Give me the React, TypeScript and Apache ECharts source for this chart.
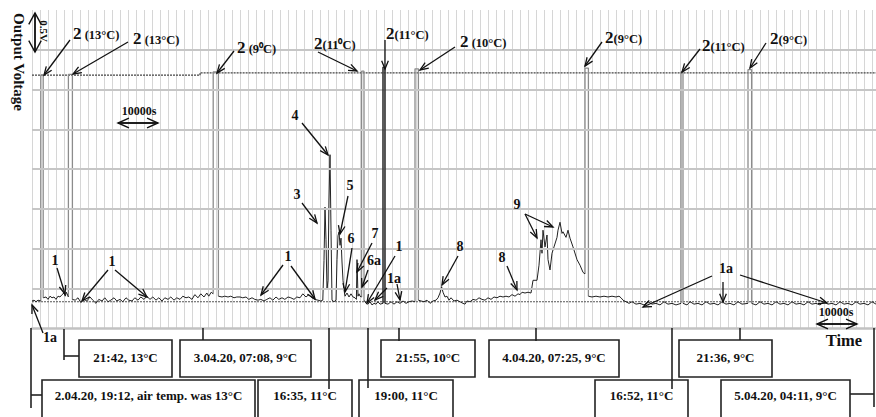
import React, { useEffect, useRef } from "react";
import * as echarts from "echarts";

const FONT = '"Liberation Serif", "Times New Roman", serif';

// time in ks (10000 s = 10 units), output voltage in V
const seg0 = [[0,0.34],[0.5,0.35],[1,0.33],[1.5,0.35],[2.2,0.34]];
const seg1 = [[2.8,0.38],[3.5,0.39],[4,0.36],[4.5,0.40],[5,0.38],[5.5,0.39],[6,0.36],[6.5,0.40],[7,0.39],[7.5,0.42],[8,0.44],[8.3,0.40],[8.6,0.45],[9.1,0.39]];
const seg2 = [[10.1,0.36],[10.8,0.35],[11.5,0.38],[12.2,0.32],[13,0.36],[13.7,0.34],[14.5,0.39],[15.2,0.35],[16,0.31],[16.7,0.36],[17.5,0.34],[18.2,0.38],[19,0.33],[19.7,0.35],[20.5,0.38],[21.2,0.34],[22,0.36],[22.7,0.33],[23.5,0.38],[24.2,0.35],[25,0.34],[25.7,0.38],[26.5,0.35],[27.2,0.39],[28,0.36],[28.7,0.40],[29.5,0.36],[30.2,0.39],[31,0.35],[31.7,0.38],[32.5,0.34],[33.2,0.38],[34,0.36],[34.7,0.39],[35.5,0.35],[36.2,0.38],[37,0.36],[37.7,0.40],[38.5,0.38],[39.2,0.39],[40,0.36],[40.7,0.42],[41.5,0.38],[42.2,0.43],[43,0.39],[43.7,0.44],[44.2,0.40],[44.8,0.45],[45.3,0.43]];
const seg3 = [[46.6,0.40],[47.5,0.39],[48.2,0.40],[49,0.39],[49.7,0.40],[50.5,0.38],[51.2,0.39],[52,0.39],[52.7,0.38],[53.5,0.39],[54.2,0.36],[55,0.38],[55.7,0.36],[56.5,0.35],[57.2,0.36],[58,0.34],[58.7,0.36],[59.5,0.38],[60.2,0.35],[61,0.39],[61.7,0.36],[62.5,0.38],[63.2,0.36],[64,0.39],[64.7,0.38],[65.5,0.36],[66.2,0.39],[67,0.38],[67.7,0.43],[68.5,0.39],[69.2,0.42],[70,0.38],[70.7,0.36],[71.5,0.35],[72.2,0.34],[72.7,0.35],[73,0.85],[73.25,1.52],[73.5,1.11],[73.75,0.48],[74,0.60],[74.25,1.61],[74.5,2.18],[74.75,1.23],[75,0.35],[75.5,0.33],[76,0.35],[76.25,0.86],[76.5,1.16],[76.75,1.21],[77,1.04],[77.25,1.13],[77.5,0.83],[77.75,0.60],[78,0.48],[78.25,0.40],[78.75,0.44],[79.25,0.39],[79.75,0.43],[80.25,0.39],[80.75,0.38],[81.1,0.36],[81.25,0.86],[81.4,0.86],[81.5,0.40],[81.75,0.43],[82,0.40],[82.4,0.39]];
const seg4 = [[83,0.35],[83.5,0.31],[84,0.30],[84.5,0.33],[85,0.29],[85.5,0.31],[86,0.30],[86.5,0.33],[87,0.30],[87.75,0.31]];
const seg5 = [[88.25,0.31],[89,0.30],[89.75,0.33],[90.5,0.30],[91.25,0.33],[92,0.31],[92.75,0.34],[93.5,0.31],[94.25,0.33],[95,0.34],[95.75,0.33]];
const seg6 = [[96.6,0.35],[97.25,0.34],[98,0.33],[98.75,0.35],[99.5,0.31],[100.25,0.34],[101,0.35],[101.5,0.38],[102,0.44],[102.4,0.52],[102.75,0.45],[103.25,0.39],[103.75,0.40],[104.25,0.35],[104.75,0.38],[105.5,0.34],[106.25,0.35],[107,0.33],[107.75,0.31],[108.25,0.30],[108.75,0.34],[109.5,0.33],[110.25,0.36],[111,0.35],[111.75,0.38],[112.5,0.36],[113.25,0.35],[114,0.38],[114.75,0.36],[115.5,0.39],[116.25,0.38],[117,0.40],[117.75,0.39],[118.5,0.40],[119.25,0.39],[120,0.42],[120.75,0.40],[121.5,0.43],[122,0.42],[122.5,0.45],[123.25,0.44],[124,0.45],[124.75,0.44],[125.25,0.60],[126.25,0.60],[126.75,0.79],[127.25,1.11],[127.5,0.94],[127.75,1.23],[128.25,1.02],[128.75,1.17],[129,0.86],[129.5,0.73],[130,0.94],[130.5,1.02],[131.25,1.14],[131.5,1.23],[132,1.33],[132.5,1.19],[132.75,1.21],[133.5,1.14],[134,1.23],[134.5,1.13],[135.25,1.02],[136.25,0.86],[137,0.79],[137.75,0.70],[138.25,0.68]];
const seg7 = [[139.1,0.40],[140,0.39],[141,0.40],[142,0.39],[143,0.40],[144,0.39],[145,0.40],[146,0.39],[146.75,0.40],[147.25,0.38],[147.75,0.35],[148.5,0.33],[149.25,0.31],[150,0.33],[151,0.30],[152,0.31],[153,0.29],[154,0.33],[155,0.30],[156,0.31],[157,0.29],[158,0.33],[159,0.30],[160,0.31],[161,0.29],[162.25,0.31]];
const seg8 = [[162.75,0.31],[163.75,0.29],[164.5,0.33],[165.5,0.30],[166.5,0.31],[167.5,0.29],[168.5,0.33],[169.5,0.30],[170.5,0.31],[171.5,0.29],[172.5,0.33],[173.5,0.30],[174.5,0.31],[175.5,0.29],[176.5,0.33],[177.5,0.30],[179,0.31]];
const seg9 = [[179.9,0.31],[181,0.29],[182,0.33],[183,0.30],[184,0.31],[185,0.29],[186,0.33],[187,0.30],[188,0.31],[189,0.29],[190,0.33],[191,0.30],[192,0.31],[193,0.29],[194,0.33],[195,0.30],[196,0.31],[197,0.29],[198,0.33],[199,0.30],[200,0.31],[201,0.29],[202,0.33],[203,0.30],[204,0.31],[205,0.29],[206,0.33],[207,0.30],[208,0.31],[209,0.29],[210,0.33],[211,0.30]];
const segments = [seg0, seg1, seg2, seg3, seg4, seg5, seg6, seg7, seg8, seg9];

// saturation pulses "2" between consecutive segments
const pulseTops = [3.18, 3.19, 3.22, 3.23, 3.28, 3.26, 3.27, 3.22, 3.25];
const pulseDark = [false, false, false, false, true, false, false, false, false];

const levelHigh = [[0,3.18],[42,3.18],[42,3.21],[211,3.21]];
const levelBase = [[0,0.33],[211,0.33]];
const gridVolts = [0.5, 1, 1.5, 2, 2.5, 3, 3.5];

const topLabels = [
  { x: 73, y: 33, sep: " ", d: "(13°C)", a: [70, 40, 44, 75] },
  { x: 133, y: 38, sep: " ", d: "(13°C)", a: [128, 42, 73, 74] },
  { x: 237, y: 47, sep: " ", d: "(9⁰C)", a: [234, 51, 217, 73] },
  { x: 314, y: 43, sep: "", d: "(11⁰C)", a: [318, 52, 357, 71] },
  { x: 386, y: 33, sep: "", d: "(11°C)", a: [385, 40, 385, 69] },
  { x: 460, y: 41, sep: " ", d: "(10°C)", a: [455, 47, 420, 70] },
  { x: 605, y: 37, sep: "", d: "(9°C)", a: [602, 42, 585, 66] },
  { x: 702, y: 45, sep: "", d: "(11°C)", a: [700, 49, 682, 72] },
  { x: 770, y: 38, sep: "", d: "(9°C)", a: [766, 43, 750, 68] },
];

const midLabels = [
  { t: "1", x: 55, y: 260, a: [[57, 268, 65, 294]] },
  { t: "1", x: 112, y: 261, a: [[108, 270, 82, 301], [115, 270, 147, 297]] },
  { t: "1", x: 288, y: 256, a: [[283, 265, 261, 295], [291, 266, 315, 299]] },
  { t: "3", x: 297, y: 194, a: [[302, 203, 317, 223]] },
  { t: "4", x: 295, y: 115, a: [[302, 123, 328, 155]] },
  { t: "5", x: 350, y: 185, a: [[348, 196, 340, 234]] },
  { t: "6", x: 351, y: 238, a: [[352, 248, 345, 292]] },
  { t: "7", x: 375, y: 233, a: [[372, 243, 357, 272]] },
  { t: "6a", x: 374, y: 260, a: [[368, 270, 362, 287]] },
  { t: "1", x: 399, y: 246, a: [[395, 256, 367, 303]] },
  { t: "1a", x: 394, y: 278, a: [[387, 288, 375, 300], [397, 284, 400, 300]] },
  { t: "8", x: 460, y: 246, a: [[458, 256, 442, 285]] },
  { t: "8", x: 502, y: 257, a: [[507, 266, 517, 290]] },
  { t: "9", x: 517, y: 204, a: [[525, 214, 537, 238], [525, 214, 553, 227]] },
  { t: "1a", x: 726, y: 268, a: [[712, 276, 643, 307], [723, 282, 723, 302], [740, 275, 827, 303]] },
  { t: "1a", x: 50, y: 337, a: [[43, 333, 32, 305]] },
];

const row1Texts = ["21:42, 13°C", "3.04.20, 07:08, 9°C", "21:55, 10°C", "4.04.20, 07:25, 9°C", "21:36, 9°C"];
const row1X = [[79, 172], [180, 311], [381, 475], [489, 619], [679, 772]];
const row2Texts = ["2.04.20, 19:12, air temp. was 13°C", "16:35, 11°C", "19:00, 11°C", "16:52, 11°C", "5.04.20, 04:11, 9°C"];
const row2X = [[42, 255], [258, 352], [359, 453], [595, 688], [721, 850]];

const connectors = [
  [31, 328, 31, 408], [31, 395, 42, 395],
  [64, 329, 64, 360], [64, 356, 79, 356],
  [203, 328, 203, 340],
  [329, 328, 329, 389],
  [368, 328, 368, 388],
  [399, 328, 399, 341],
  [536, 328, 536, 341],
  [672, 328, 672, 389],
  [740, 328, 740, 340],
  [874, 328, 874, 407], [850, 394, 874, 394],
];

function arrowEls(x1: number, y1: number, x2: number, y2: number, head = 9, spread = 0.38, lw = 1.3) {
  const a = Math.atan2(y2 - y1, x2 - x1);
  const p1 = [x2 - head * Math.cos(a - spread), y2 - head * Math.sin(a - spread)];
  const p2 = [x2 - head * Math.cos(a + spread), y2 - head * Math.sin(a + spread)];
  return [
    { type: "line", silent: true, z: 100, shape: { x1, y1, x2, y2 }, style: { stroke: "#111", lineWidth: lw } },
    { type: "polyline", silent: true, z: 100, shape: { points: [p1, [x2, y2], p2] }, style: { stroke: "#111", lineWidth: lw, fill: null } },
  ];
}

function doubleArrow(x1: number, y1: number, x2: number, y2: number, head: number, spread: number) {
  return [...arrowEls(x1, y1, x2, y2, head, spread, 1.4), ...arrowEls(x2, y2, x1, y1, head, spread, 1.4)];
}

function buildGraphic() {
  const els: any[] = [];
  const txt = (text: string, x: number, y: number, size: number, rotation = 0) => ({
    type: "text", silent: true, z: 101, x, y, rotation,
    style: { text, fontFamily: FONT, fontSize: size, fontWeight: "bold", fill: "#111", align: "center", verticalAlign: "middle" },
  });
  topLabels.forEach((l) => {
    els.push({
      type: "text", silent: true, z: 101, x: l.x, y: l.y,
      style: {
        text: `{n|2}{c|${l.sep}${l.d}}`,
        align: "left", verticalAlign: "middle",
        rich: {
          n: { fontFamily: FONT, fontSize: 17, fontWeight: "bold", fill: "#111", verticalAlign: "bottom" },
          c: { fontFamily: FONT, fontSize: 12.5, fontWeight: "bold", fill: "#111", verticalAlign: "bottom" },
        },
      },
    });
    els.push(...arrowEls(l.a[0], l.a[1], l.a[2], l.a[3]));
  });
  midLabels.forEach((l) => {
    els.push(txt(l.t, l.x, l.y, 14));
    l.a.forEach((a) => els.push(...arrowEls(a[0], a[1], a[2], a[3])));
  });
  // axis name & scale marks
  els.push(txt("Output Voltage", 19, 62, 15, -Math.PI / 2));
  els.push(txt("0.5V", 44, 31, 11, -Math.PI / 2));
  els.push(...doubleArrow(35, 13, 35, 52, 13, 0.5));
  els.push(txt("10000s", 139, 111, 12));
  els.push(...doubleArrow(118, 123, 158, 123, 12, 0.42));
  els.push(txt("10000s", 836, 312, 12));
  els.push(...doubleArrow(817, 324, 857, 324, 12, 0.42));
  els.push(txt("Time", 844, 340, 16.5));
  // timeline boxes
  const box = (x0: number, x1: number, y0: number, y1: number) => ({
    type: "rect", silent: true, z: 99, shape: { x: x0, y: y0, width: x1 - x0, height: y1 - y0 },
    style: { fill: "#fff", stroke: "#222", lineWidth: 1.6 },
  });
  row1Texts.forEach((t, i) => {
    els.push(box(row1X[i][0], row1X[i][1], 340, 377));
    els.push(txt(t, (row1X[i][0] + row1X[i][1]) / 2, 357, 13));
  });
  row2Texts.forEach((t, i) => {
    els.push(box(row2X[i][0], row2X[i][1], 380, 430));
    els.push(txt(t, (row2X[i][0] + row2X[i][1]) / 2, 395, 13));
  });
  connectors.forEach((c) => {
    els.push({ type: "line", silent: true, z: 102, shape: { x1: c[0], y1: c[1], x2: c[2], y2: c[3] }, style: { stroke: "#222", lineWidth: 1.6 } });
  });
  return els;
}

export default function App() {
  const ref = useRef<HTMLDivElement>(null);
  useEffect(() => {
    if (!ref.current) return;
    const chart = echarts.init(ref.current, null, { renderer: "svg" });
    const series: any[] = [];
    series.push({
      type: "line", data: levelBase, symbol: "none", z: 1, silent: true,
      lineStyle: { color: "#555", width: 1.2, type: [2, 1] },
      markLine: {
        silent: true, symbol: ["none", "none"], label: { show: false },
        lineStyle: { color: "#c6c6c6", width: 1.8, type: "solid" },
        data: gridVolts.map((v) => ({ yAxis: v })),
      },
    });
    series.push({
      type: "line", data: levelHigh, symbol: "none", z: 2, silent: true,
      lineStyle: { color: "#444", width: 1.3, type: [2, 1] },
    });
    segments.forEach((s) => {
      series.push({ type: "line", data: s, symbol: "none", z: 4, silent: true, lineStyle: { color: "#222", width: 1 } });
    });
    pulseTops.forEach((top, i) => {
      const a = segments[i][segments[i].length - 1];
      const b = segments[i + 1][0];
      series.push({
        type: "line", data: [a, [a[0], top], [b[0], top], b], symbol: "none", z: pulseDark[i] ? 5 : 3, silent: true,
        lineStyle: { color: pulseDark[i] ? "#333" : "#8c8c8c", width: pulseDark[i] ? 1.6 : 1.3 },
      });
    });
    chart.setOption({
      animation: false,
      backgroundColor: "#fff",
      grid: { left: 32, right: 0, top: 10, bottom: 89, containLabel: false },
      xAxis: {
        type: "value", min: 0, max: 211, interval: 2,
        axisLine: { show: true, onZero: false, lineStyle: { color: "#c2c2c2", width: 2.5 } },
        axisTick: { show: false }, axisLabel: { show: false },
        splitLine: { show: true, lineStyle: { color: "#d6d6d6", width: 1 } },
      },
      yAxis: {
        type: "value", min: 0, max: 4,
        axisLine: { show: false }, axisTick: { show: false }, axisLabel: { show: false },
        splitLine: { show: false },
      },
      series,
      graphic: buildGraphic(),
    });
    return () => chart.dispose();
  }, []);
  return <div ref={ref} style={{ position: "fixed", left: 0, top: 0, width: 876, height: 417, background: "#fff" }} />;
}
